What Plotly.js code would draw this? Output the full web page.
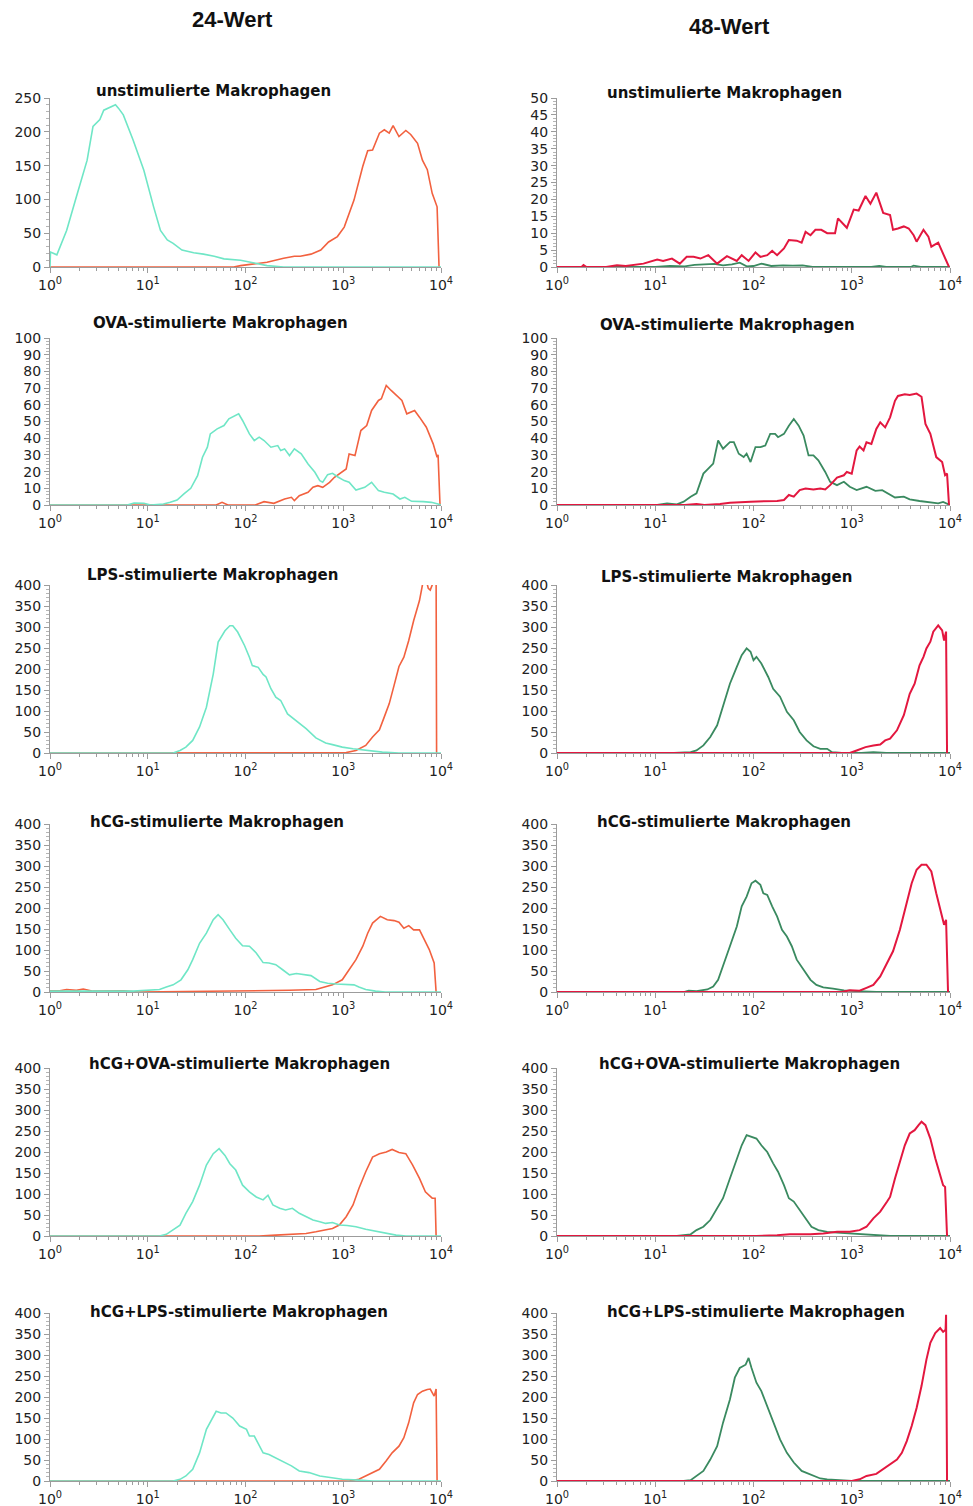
<!DOCTYPE html>
<html><head><meta charset="utf-8">
<script src="https://cdn.plot.ly/plotly-3.0.1.min.js"></script>
<style>body{margin:0;background:#fff}#chart{width:973px;height:1506px}</style>
</head><body><div id="chart"></div>
<script>
// ---------- labels ----------
const columnTitles = ['24-Wert', '48-Wert'];
const panelTitles = ['unstimulierte Makrophagen', 'OVA-stimulierte Makrophagen', 'LPS-stimulierte Makrophagen',
  'hCG-stimulierte Makrophagen', 'hCG+OVA-stimulierte Makrophagen', 'hCG+LPS-stimulierte Makrophagen'];
const xTickVals = [1, 10, 100, 1000, 10000];
const xTickText = ['10<sup>0</sup>', '10<sup>1</sup>', '10<sup>2</sup>', '10<sup>3</sup>', '10<sup>4</sup>'];
const yMax = [250, 100, 400, 400, 400, 400];
const yMaxRight = [50, 100, 400, 400, 400, 400];

// ---------- data: x as log10(channel), y as counts ----------
// unstimulated 24h
const u24TealX = [0, 0.005, 0.07, 0.17, 0.27, 0.38, 0.44, 0.51, 0.55, 0.62, 0.67, 0.7, 0.75, 0.85, 0.96, 1.06, 1.13, 1.2, 1.26, 1.35, 1.47, 1.57, 1.68, 1.78, 1.95, 2.09, 2.22, 2.39, 4.0];
const u24TealY = [0, 22, 18, 54, 104, 158, 208, 218, 232, 237, 240, 235, 225, 188, 143, 89, 54, 40, 35, 25, 21, 19, 16, 12, 10, 6, 2, 0, 0];
const u24RedX = [0, 1.88, 1.95, 2.09, 2.22, 2.39, 2.5, 2.56, 2.67, 2.77, 2.85, 2.94, 3.01, 3.11, 3.2, 3.25, 3.3, 3.37, 3.42, 3.47, 3.51, 3.57, 3.64, 3.69, 3.76, 3.81, 3.86, 3.91, 3.96, 3.98];
const u24RedY = [0, 0, 2, 5, 7, 13, 16, 16, 19, 25, 37, 45, 59, 99, 149, 172, 173, 198, 203, 198, 209, 193, 202, 196, 183, 158, 144, 109, 89, 0];
// unstimulated 48h
const u48GreenX = [0, 1.0, 1.15, 1.3, 1.4, 1.5, 1.6, 1.69, 1.78, 1.86, 1.93, 2.0, 2.08, 2.18, 2.3, 2.4, 2.5, 2.6, 3.2, 3.28, 3.35, 3.6, 3.63, 3.7, 4.0];
const u48GreenY = [0, 0, 0.3, 0.2, 0.6, 0.8, 0.9, 0.5, 0.8, 1.3, 0.2, 0.3, 1, 0.3, 0.5, 0.4, 0.5, 0, 0, 0.3, 0, 0, 0.4, 0, 0];
const u48RedX = [0, 0.25, 0.27, 0.3, 0.5, 0.61, 0.7, 0.78, 0.88, 1.02, 1.08, 1.17, 1.25, 1.32, 1.39, 1.46, 1.54, 1.63, 1.73, 1.83, 1.88, 1.95, 2.02, 2.07, 2.14, 2.19, 2.24, 2.31, 2.36, 2.44, 2.49, 2.53, 2.58, 2.63, 2.69, 2.75, 2.83, 2.86, 2.95, 3.02, 3.07, 3.14, 3.19, 3.25, 3.32, 3.39, 3.42, 3.47, 3.53, 3.58, 3.63, 3.66, 3.73, 3.78, 3.81, 3.88, 3.93, 3.99];
const u48RedY = [0, 0, 0.6, 0, 0, 0.5, 0.3, 0.7, 1, 2.2, 1.8, 2.5, 1, 3, 3, 2.5, 3.5, 1, 3.2, 1.8, 3.5, 1.8, 4.3, 3, 3.5, 4.8, 3.5, 5.5, 8, 7.8, 7.2, 10.4, 9.4, 11, 11, 10, 10, 14.4, 11.6, 17, 16.7, 21, 18.7, 22, 16, 15.4, 11, 11.4, 12, 11.4, 9.4, 7.5, 11, 9, 6, 7.2, 4, 0];
// OVA 24h
const o24TealX = [0, 0.79, 0.86, 0.96, 1.03, 1.16, 1.23, 1.3, 1.37, 1.44, 1.51, 1.56, 1.61, 1.64, 1.71, 1.78, 1.83, 1.9, 1.93, 1.97, 2.04, 2.09, 2.14, 2.19, 2.26, 2.33, 2.36, 2.4, 2.45, 2.5, 2.57, 2.64, 2.71, 2.76, 2.79, 2.84, 2.89, 2.95, 3.01, 3.06, 3.13, 3.22, 3.29, 3.36, 3.42, 3.51, 3.58, 3.63, 3.7, 3.82, 3.9, 3.97, 4.0];
const o24TealY = [0, 0, 1.2, 1, 0, 0.6, 1.6, 3, 6.6, 10, 17.6, 28.6, 34.6, 42.6, 45.6, 47.6, 51.6, 53.6, 54.6, 50.6, 42.6, 38.6, 40.6, 38.6, 34.6, 35.6, 32.6, 33.6, 29.6, 33.6, 30.6, 24.6, 19.6, 14.6, 13.6, 18.2, 19, 16.6, 14.6, 13.6, 9, 10.6, 13.6, 8.6, 7.6, 6.6, 3.6, 4.6, 2.2, 2, 1.6, 0.6, 0];
const o24RedX = [0, 1.4, 1.7, 1.76, 1.82, 2.1, 2.19, 2.29, 2.4, 2.47, 2.5, 2.55, 2.64, 2.69, 2.74, 2.79, 2.86, 2.91, 2.98, 3.03, 3.06, 3.12, 3.18, 3.24, 3.29, 3.36, 3.39, 3.44, 3.49, 3.54, 3.6, 3.65, 3.73, 3.78, 3.85, 3.92, 3.96, 3.97, 3.99];
const o24RedY = [0, 0, 0, 1.6, 0, 0, 2, 1, 3.6, 4.6, 2.6, 5.6, 7.6, 10.6, 11.6, 10.6, 13.6, 16.6, 19.6, 21.6, 30.6, 29.6, 44.6, 47.6, 56.6, 62.6, 63.6, 71.6, 68.6, 65.6, 62.6, 54.6, 56.6, 52.6, 46.6, 36.6, 28.6, 30, 0];
// OVA 48h
const o48GreenX = [0, 1.02, 1.12, 1.22, 1.29, 1.36, 1.42, 1.49, 1.54, 1.59, 1.64, 1.69, 1.76, 1.8, 1.85, 1.9, 1.93, 1.97, 2.02, 2.07, 2.12, 2.17, 2.22, 2.25, 2.31, 2.36, 2.41, 2.46, 2.51, 2.56, 2.61, 2.66, 2.73, 2.78, 2.85, 2.92, 2.98, 3.05, 3.15, 3.24, 3.31, 3.37, 3.44, 3.53, 3.59, 3.69, 3.8, 3.88, 3.93, 4.0];
const o48GreenY = [0, 0, 1, 0.4, 2, 5, 7, 18.8, 21.8, 24.8, 38.6, 33.7, 37.6, 37.6, 30.7, 28.7, 30.7, 25.7, 34.7, 34.7, 35.6, 42.6, 42.6, 40.6, 42.6, 47.5, 51.5, 47.5, 41.6, 29.7, 29.7, 26.7, 19.8, 13.9, 11.9, 13.9, 10.9, 8.9, 10.9, 8.5, 8.9, 6.9, 4.5, 5, 3.4, 2.4, 1.8, 1, 1.8, 0];
const o48RedX = [0, 1.3, 1.42, 1.5, 1.66, 1.76, 1.97, 2.03, 2.14, 2.24, 2.31, 2.36, 2.41, 2.47, 2.53, 2.61, 2.68, 2.73, 2.78, 2.85, 2.92, 2.95, 3.0, 3.05, 3.08, 3.12, 3.15, 3.2, 3.25, 3.29, 3.34, 3.39, 3.44, 3.47, 3.54, 3.59, 3.66, 3.71, 3.75, 3.8, 3.86, 3.92, 3.95, 3.97, 3.99];
const o48RedY = [0, 0, 0.6, 0, 0.6, 1.4, 2, 2, 2.4, 2.4, 3, 6, 5, 8.9, 9.9, 9.3, 9.9, 9.3, 11.9, 16.4, 17.8, 19.8, 18.8, 32.7, 35, 32.7, 37.6, 36.6, 45.5, 49.5, 46.5, 52.5, 62.4, 65.3, 66.3, 65.9, 66.7, 64.8, 48.5, 42.6, 28.7, 25.7, 17.8, 18.8, 0];
// LPS 24h
const l24TealX = [0, 1.26, 1.33, 1.39, 1.46, 1.53, 1.6, 1.67, 1.72, 1.79, 1.84, 1.87, 1.92, 1.99, 2.04, 2.07, 2.13, 2.18, 2.21, 2.26, 2.31, 2.36, 2.43, 2.52, 2.62, 2.72, 2.82, 2.89, 2.99, 3.1, 3.23, 3.4, 3.57, 4.0];
const l24TealY = [0, 0, 6, 14, 30, 62, 109, 188, 264, 291, 303, 303, 288, 256, 228, 208, 204, 187, 181, 153, 133, 125, 93, 76, 58, 36, 24, 20, 14, 10, 6, 2, 0, 0];
const l24RedX = [0, 2.89, 3.03, 3.13, 3.23, 3.3, 3.37, 3.42, 3.47, 3.52, 3.57, 3.62, 3.67, 3.72, 3.78, 3.81, 3.84, 3.87, 3.89, 3.91, 3.93, 3.95, 3.955];
const l24RedY = [0, 0, 1, 6, 18, 38, 55, 86, 117, 161, 206, 228, 268, 315, 363, 400, 420, 392, 388, 400, 420, 420, 0];
// LPS 48h
const l48GreenX = [0, 1.19, 1.36, 1.42, 1.49, 1.56, 1.63, 1.69, 1.76, 1.83, 1.88, 1.93, 1.97, 2.0, 2.03, 2.08, 2.15, 2.2, 2.27, 2.34, 2.41, 2.47, 2.54, 2.61, 2.68, 2.75, 2.8, 2.9, 3.1, 3.22, 3.35, 4.0];
const l48GreenY = [0, 0, 2, 6, 18, 38, 66, 110, 165, 205, 233, 249, 241, 221, 229, 213, 181, 153, 134, 98, 78, 50, 30, 16, 10, 10, 2, 0, 0, 2, 0, 0];
const l48RedX = [0, 2.98, 3.05, 3.14, 3.22, 3.29, 3.34, 3.39, 3.46, 3.53, 3.59, 3.64, 3.69, 3.73, 3.76, 3.8, 3.83, 3.88, 3.92, 3.94, 3.96, 3.97];
const l48RedY = [0, 0, 6, 14, 18, 20, 30, 34, 54, 90, 141, 165, 209, 229, 249, 265, 289, 304, 292, 268, 289, 0];
// hCG 24h
const h24TealX = [0, 0.005, 0.85, 1.02, 1.12, 1.19, 1.26, 1.34, 1.41, 1.46, 1.53, 1.6, 1.67, 1.72, 1.77, 1.84, 1.9, 1.97, 2.04, 2.11, 2.18, 2.24, 2.31, 2.38, 2.45, 2.52, 2.59, 2.67, 2.76, 2.84, 2.93, 3.03, 3.11, 3.16, 3.23, 3.33, 3.43, 4.0];
const h24TealY = [0, 2, 2, 4, 6, 12, 17, 29, 53, 77, 116, 140, 172, 184, 172, 148, 128, 110, 109, 93, 70, 69, 65, 53, 41, 44, 41, 39, 25, 21, 19, 17, 17, 12, 6, 2, 0, 0];
const h24RedX = [0, 0.005, 0.1, 0.17, 0.27, 0.34, 0.44, 0.61, 0.75, 0.9, 2.21, 2.45, 2.72, 2.89, 2.99, 3.06, 3.13, 3.2, 3.25, 3.3, 3.38, 3.45, 3.52, 3.57, 3.62, 3.67, 3.72, 3.78, 3.83, 3.88, 3.93, 3.95];
const h24RedY = [0, 3, 3, 6, 4, 7, 2, 2, 3, 0, 2, 4, 6, 17, 29, 53, 77, 109, 140, 164, 180, 172, 170, 166, 152, 158, 148, 148, 124, 101, 69, 0];
// hCG 48h
const h48GreenX = [0, 1.29, 1.34, 1.42, 1.53, 1.59, 1.64, 1.69, 1.76, 1.83, 1.88, 1.93, 1.98, 2.02, 2.07, 2.1, 2.14, 2.19, 2.24, 2.29, 2.34, 2.39, 2.44, 2.51, 2.58, 2.64, 2.71, 2.81, 2.92, 3.05, 3.25, 4.0];
const h48GreenY = [0, 0, 3, 2, 6, 13, 29, 61, 109, 156, 204, 227, 259, 265, 255, 235, 231, 204, 180, 148, 132, 109, 77, 53, 29, 17, 11, 8, 4, 2, 0, 0];
const h48RedX = [0, 2.9, 2.98, 3.08, 3.15, 3.22, 3.29, 3.36, 3.42, 3.49, 3.56, 3.61, 3.66, 3.71, 3.76, 3.81, 3.86, 3.92, 3.94, 3.96, 3.98];
const h48RedY = [0, 0, 4, 3, 10, 17, 37, 69, 97, 148, 212, 259, 291, 303, 303, 287, 235, 180, 160, 172, 0];
// hCG+OVA 24h
const ho24TealX = [0, 1.12, 1.19, 1.26, 1.33, 1.39, 1.46, 1.53, 1.6, 1.67, 1.73, 1.79, 1.84, 1.9, 1.97, 2.04, 2.11, 2.18, 2.23, 2.28, 2.35, 2.41, 2.48, 2.55, 2.62, 2.69, 2.76, 2.82, 2.89, 2.96, 3.04, 3.13, 3.23, 3.33, 3.44, 3.54, 3.64, 4.0];
const ho24TealY = [0, 0, 4, 14, 26, 54, 82, 121, 169, 196, 208, 192, 172, 157, 121, 105, 93, 86, 97, 74, 66, 62, 66, 54, 46, 38, 34, 30, 32, 26, 25, 22, 16, 12, 6, 2, 0, 0];
const ho24RedX = [0, 2.14, 2.31, 2.48, 2.62, 2.72, 2.82, 2.89, 2.96, 3.03, 3.1, 3.16, 3.23, 3.3, 3.37, 3.44, 3.5, 3.57, 3.64, 3.71, 3.78, 3.84, 3.91, 3.94, 3.95];
const ho24RedY = [0, 0, 2, 4, 6, 10, 14, 18, 26, 46, 74, 113, 153, 188, 196, 200, 206, 199, 196, 169, 137, 105, 90, 90, 0];
// hCG+OVA 48h
const ho48GreenX = [0, 1.22, 1.29, 1.36, 1.42, 1.49, 1.56, 1.63, 1.69, 1.76, 1.83, 1.88, 1.93, 1.98, 2.03, 2.08, 2.14, 2.2, 2.25, 2.31, 2.36, 2.41, 2.46, 2.53, 2.59, 2.66, 2.75, 2.85, 2.98, 3.12, 3.25, 3.39, 4.0];
const ho48GreenY = [0, 0, 2, 4, 14, 22, 38, 66, 90, 137, 185, 216, 240, 236, 232, 216, 200, 173, 153, 121, 90, 82, 66, 42, 22, 14, 10, 8, 6, 5, 2, 0, 0];
const ho48RedX = [0, 2.03, 2.24, 2.37, 2.58, 2.71, 2.85, 2.98, 3.08, 3.15, 3.22, 3.29, 3.36, 3.39, 3.44, 3.49, 3.54, 3.59, 3.64, 3.68, 3.71, 3.75, 3.8, 3.85, 3.88, 3.93, 3.95, 3.97];
const ho48RedY = [0, 0, 2, 4, 4, 6, 10, 10, 14, 22, 42, 58, 82, 93, 137, 177, 216, 244, 252, 264, 272, 264, 232, 185, 161, 121, 117, 0];
// hCG+LPS 24h
const hl24TealX = [0, 1.26, 1.33, 1.39, 1.46, 1.53, 1.6, 1.67, 1.7, 1.75, 1.8, 1.87, 1.94, 2.01, 2.04, 2.09, 2.14, 2.18, 2.24, 2.31, 2.38, 2.47, 2.55, 2.65, 2.76, 2.86, 2.99, 3.16, 3.3, 4.0];
const hl24TealY = [0, 0, 4, 12, 28, 67, 123, 154, 166, 162, 162, 150, 131, 123, 107, 107, 83, 67, 63, 55, 48, 36, 24, 20, 12, 8, 4, 2, 0, 0];
const hl24RedX = [0, 3.06, 3.16, 3.27, 3.37, 3.44, 3.5, 3.57, 3.62, 3.67, 3.72, 3.76, 3.81, 3.86, 3.89, 3.93, 3.95, 3.96];
const hl24RedY = [0, 0, 4, 16, 28, 48, 67, 83, 103, 139, 186, 206, 214, 218, 219, 202, 219, 0];
// hCG+LPS 48h
const hl48GreenX = [0, 1.29, 1.36, 1.42, 1.49, 1.56, 1.63, 1.69, 1.76, 1.81, 1.86, 1.92, 1.95, 1.98, 2.03, 2.08, 2.14, 2.2, 2.27, 2.34, 2.41, 2.49, 2.58, 2.68, 2.75, 2.88, 3.0, 4.0];
const hl48GreenY = [0, 0, 2, 12, 24, 51, 83, 139, 194, 246, 269, 277, 293, 269, 234, 214, 178, 139, 99, 67, 44, 24, 16, 6, 4, 2, 0, 0];
const hl48RedX = [0, 3.0, 3.08, 3.15, 3.25, 3.32, 3.39, 3.46, 3.51, 3.56, 3.61, 3.66, 3.71, 3.76, 3.8, 3.85, 3.9, 3.93, 3.955, 3.96, 3.97];
const hl48RedY = [0, 0, 4, 12, 17, 28, 40, 51, 67, 95, 131, 174, 226, 289, 329, 352, 364, 355, 360, 396, 0];

// ---------- panel assembly ----------
const leftSeries = [
  [[u24RedX, u24RedY], [u24TealX, u24TealY]],
  [[o24RedX, o24RedY], [o24TealX, o24TealY]],
  [[l24RedX, l24RedY], [l24TealX, l24TealY]],
  [[h24RedX, h24RedY], [h24TealX, h24TealY]],
  [[ho24RedX, ho24RedY], [ho24TealX, ho24TealY]],
  [[hl24RedX, hl24RedY], [hl24TealX, hl24TealY]]
];
const rightSeries = [
  [[u48GreenX, u48GreenY], [u48RedX, u48RedY]],
  [[o48GreenX, o48GreenY], [o48RedX, o48RedY]],
  [[l48GreenX, l48GreenY], [l48RedX, l48RedY]],
  [[h48GreenX, h48GreenY], [h48RedX, h48RedY]],
  [[ho48GreenX, ho48GreenY], [ho48RedX, ho48RedY]],
  [[hl48GreenX, hl48GreenY], [hl48RedX, hl48RedY]]
];

// ---------- layout geometry (pixels) ----------
const W = 973, H = 1506;
const rowPx = [[98, 267], [338, 505], [585, 753], [824, 992], [1068, 1236], [1313, 1481]];
const colPx = [[50, 441], [557, 950]];
const titlePx = [
  [[213, 91], [724, 93]], [[220, 323], [727, 325]], [[212, 575], [726, 577]],
  [[217, 822], [724, 822]], [[239, 1064], [749, 1064]], [[239, 1312], [756, 1312]]
];
const headPx = [[232, 20], [729, 27]];
const leftColors = ['#f2613f', '#6fe6c6'];
const rightColors = ['#3a8a60', '#e3173f'];
const leftWidths = [1.6, 1.6];
const rightWidths = [1.8, 2.0];

const minorX = [];
[1, 10, 100, 1000].forEach(d => { for (let k = 2; k <= 9; k++) minorX.push(k * d); });

const axisColor = '#9c9c9c';
const tickFont = {family: 'DejaVu Sans, Verdana, sans-serif', size: 14, color: '#222'};

const traces = [];
const layout = {
  width: W, height: H, margin: {l: 0, r: 0, t: 0, b: 0},
  paper_bgcolor: '#fff', plot_bgcolor: '#fff', showlegend: false, hovermode: false,
  annotations: []
};

function yStep(max) {
  if (max === 50) return [5, 1];
  if (max === 100) return [10, 2];
  return [50, 10];
}

for (let r = 0; r < 6; r++) {
  for (let c = 0; c < 2; c++) {
    const idx = r * 2 + c + 1;
    const xa = idx === 1 ? 'xaxis' : 'xaxis' + idx;
    const ya = idx === 1 ? 'yaxis' : 'yaxis' + idx;
    const xr = idx === 1 ? 'x' : 'x' + idx;
    const yr = idx === 1 ? 'y' : 'y' + idx;
    const max = c === 0 ? yMax[r] : yMaxRight[r];
    const [dt, mdt] = yStep(max);
    layout[xa] = {
      domain: [colPx[c][0] / W, colPx[c][1] / W], anchor: yr, type: 'log', range: [0, 4],
      showline: true, linecolor: axisColor, linewidth: 1, showgrid: false, zeroline: false,
      ticks: 'outside', ticklen: 5, tickcolor: axisColor, tickmode: 'array',
      tickvals: xTickVals, ticktext: xTickText, tickfont: tickFont,
      minor: {tickmode: 'array', tickvals: minorX, ticks: 'outside', ticklen: 3, tickcolor: axisColor, showgrid: false}
    };
    layout[ya] = {
      domain: [1 - rowPx[r][1] / H, 1 - rowPx[r][0] / H], anchor: xr, range: [0, max],
      showline: true, linecolor: axisColor, linewidth: 1, showgrid: false, zeroline: false,
      ticks: 'outside', ticklen: 5, tickcolor: axisColor, dtick: dt, tick0: 0, tickfont: tickFont,
      minor: {dtick: mdt, ticks: 'outside', ticklen: 3, tickcolor: '#b5b5b5', showgrid: false}
    };
    const series = c === 0 ? leftSeries[r] : rightSeries[r];
    const colors = c === 0 ? leftColors : rightColors;
    const widths = c === 0 ? leftWidths : rightWidths;
    series.forEach((s, k) => {
      traces.push({
        type: 'scatter', mode: 'lines', xaxis: xr, yaxis: yr,
        x: s[0].map(e => Math.pow(10, e)), y: s[1],
        line: {color: colors[k], width: widths[k], shape: 'linear'}, cliponaxis: true
      });
    });
    layout.annotations.push({
      text: panelTitles[r], xref: 'paper', yref: 'paper',
      x: titlePx[r][c][0] / W, y: 1 - titlePx[r][c][1] / H, xanchor: 'center', yanchor: 'middle',
      showarrow: false, font: {family: 'DejaVu Sans, Verdana, sans-serif', size: 15, color: '#111', weight: 'bold'}
    });
  }
}
columnTitles.forEach((t, c) => {
  layout.annotations.push({
    text: t, xref: 'paper', yref: 'paper', x: headPx[c][0] / W, y: 1 - headPx[c][1] / H,
    xanchor: 'center', yanchor: 'middle', showarrow: false,
    font: {family: 'Liberation Sans, Arial, sans-serif', size: 22, color: '#111', weight: 'bold'}
  });
});

Plotly.newPlot('chart', traces, layout, {staticPlot: true, displayModeBar: false});
</script>
</body></html>
